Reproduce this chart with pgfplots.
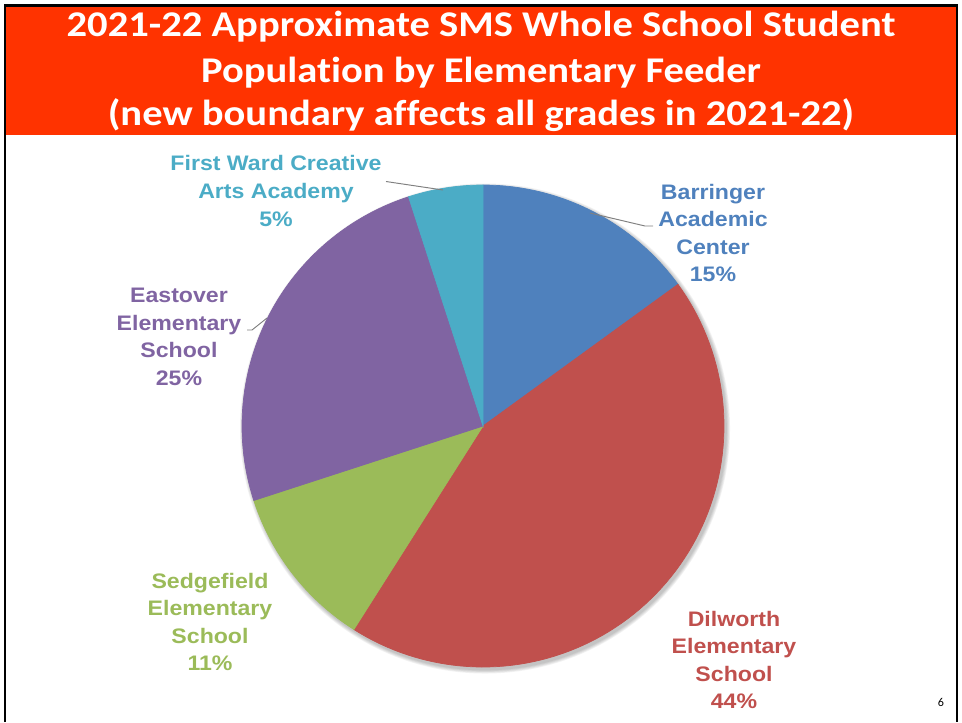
\documentclass[border=0pt]{standalone}
\usepackage{fontspec}
\setmainfont{Liberation Sans}[FakeStretch=1.1]
\newfontfamily\titlefont{Carlito}[FakeStretch=1.12, Ligatures=NoCommon]
\newfontfamily\pagefont{Carlito}
\usepackage{pgfplots}
\usepackage{pgfplotstable}
\pgfplotsset{compat=1.18}

\definecolor{banner}{RGB}{255,51,0}
\definecolor{cBlue}{RGB}{79,129,189}
\definecolor{cRed}{RGB}{192,80,77}
\definecolor{cGreen}{RGB}{155,187,89}
\definecolor{cPurple}{RGB}{128,100,162}
\definecolor{cAqua}{RGB}{75,172,198}

% share of the student population, in percent, clockwise from 12 o'clock
\pgfplotstableread{
school value
Barringer 15
Dilworth 44
Sedgefield 11
Eastover 25
FirstWard 5
}\piedata

\def\cx{483}\def\cy{426}\def\rr{241}
\newcommand\slice[3]{%
  \addplot[draw=#3, line width=0.3pt, fill=#3, domain=#1:#2, samples=90, variable=\t]
    ({\cx+\rr*cos(\t)},{\cy+\rr*sin(\t)}) -- (axis cs:\cx,\cy) -- cycle;}
\tikzset{lbl/.style={font=\fontsize{8.7}{11.4}\selectfont\bfseries, align=center},
  ttl/.style={font=\titlefont\fontsize{15}{18}\selectfont\bfseries, text=white, anchor=base}}

\begin{document}
\begin{tikzpicture}
\pgfmathsetmacro\aA{-90}
\pgfplotstablegetelem{0}{value}\of\piedata \pgfmathsetmacro\aB{\aA+3.6*\pgfplotsretval}
\pgfplotstablegetelem{1}{value}\of\piedata \pgfmathsetmacro\aC{\aB+3.6*\pgfplotsretval}
\pgfplotstablegetelem{2}{value}\of\piedata \pgfmathsetmacro\aD{\aC+3.6*\pgfplotsretval}
\pgfplotstablegetelem{3}{value}\of\piedata \pgfmathsetmacro\aE{\aD+3.6*\pgfplotsretval}
\pgfplotstablegetelem{4}{value}\of\piedata \pgfmathsetmacro\aF{\aE+3.6*\pgfplotsretval}
\begin{axis}[width=14cm, height=10.5073cm, scale only axis, hide axis,
    xmin=0, xmax=962, ymin=0, ymax=722, y dir=reverse, clip=false]
  % banner and frame
  \fill[banner] (axis cs:6,7) rectangle (axis cs:957,135);
  \draw[black, line width=1pt] (axis cs:5,722) -- (axis cs:5,5.5) -- (axis cs:957,5.5) -- (axis cs:957,722);
  % soft shadow
  \pgfplotsinvokeforeach{1,...,5}{
    \fill[black, opacity=0.05] (axis cs:\cx+2,\cy+2.5) circle [radius=\rr+#1*0.8];
  }
  \slice{\aA}{\aB}{cBlue}
  \slice{\aB}{\aC}{cRed}
  \slice{\aC}{\aD}{cGreen}
  \slice{\aD}{\aE}{cPurple}
  \slice{\aE}{\aF}{cAqua}
  % leader lines
  \draw[gray, line width=0.4pt] (axis cs:443,190) -- (axis cs:386,181.5);
  \draw[gray, line width=0.4pt] (axis cs:590,213) -- (axis cs:645,226) -- (axis cs:653,226);
  \draw[gray, line width=0.4pt] (axis cs:267,318) -- (axis cs:252,330) -- (axis cs:247,330);
  % title
  \node[ttl] at (axis cs:481,36) {2021-22 Approximate SMS Whole School Student};
  \node[ttl] at (axis cs:481,82) {Population by Elementary Feeder};
  \node[ttl] at (axis cs:481,125) {(new boundary affects all grades in 2021-22)};
  % slice labels
  \node[lbl, text=cAqua] at (axis cs:276,191) {First Ward Creative\\Arts Academy\\5\%};
  \node[lbl, text=cBlue] at (axis cs:713,233) {Barringer\\Academic\\Center\\15\%};
  \node[lbl, text=cPurple] at (axis cs:179,337) {Eastover\\Elementary\\School\\25\%};
  \node[lbl, text=cGreen] at (axis cs:210,622) {Sedgefield\\Elementary\\School\\11\%};
  \node[lbl, text=cRed] at (axis cs:734,660) {Dilworth\\Elementary\\School\\44\%};
  \node[font=\pagefont\fontsize{5}{6}\selectfont] at (axis cs:941,702) {6};
\end{axis}
\pgfresetboundingbox
\useasboundingbox (current axis.south west) rectangle (current axis.north east);
\end{tikzpicture}
\end{document}
